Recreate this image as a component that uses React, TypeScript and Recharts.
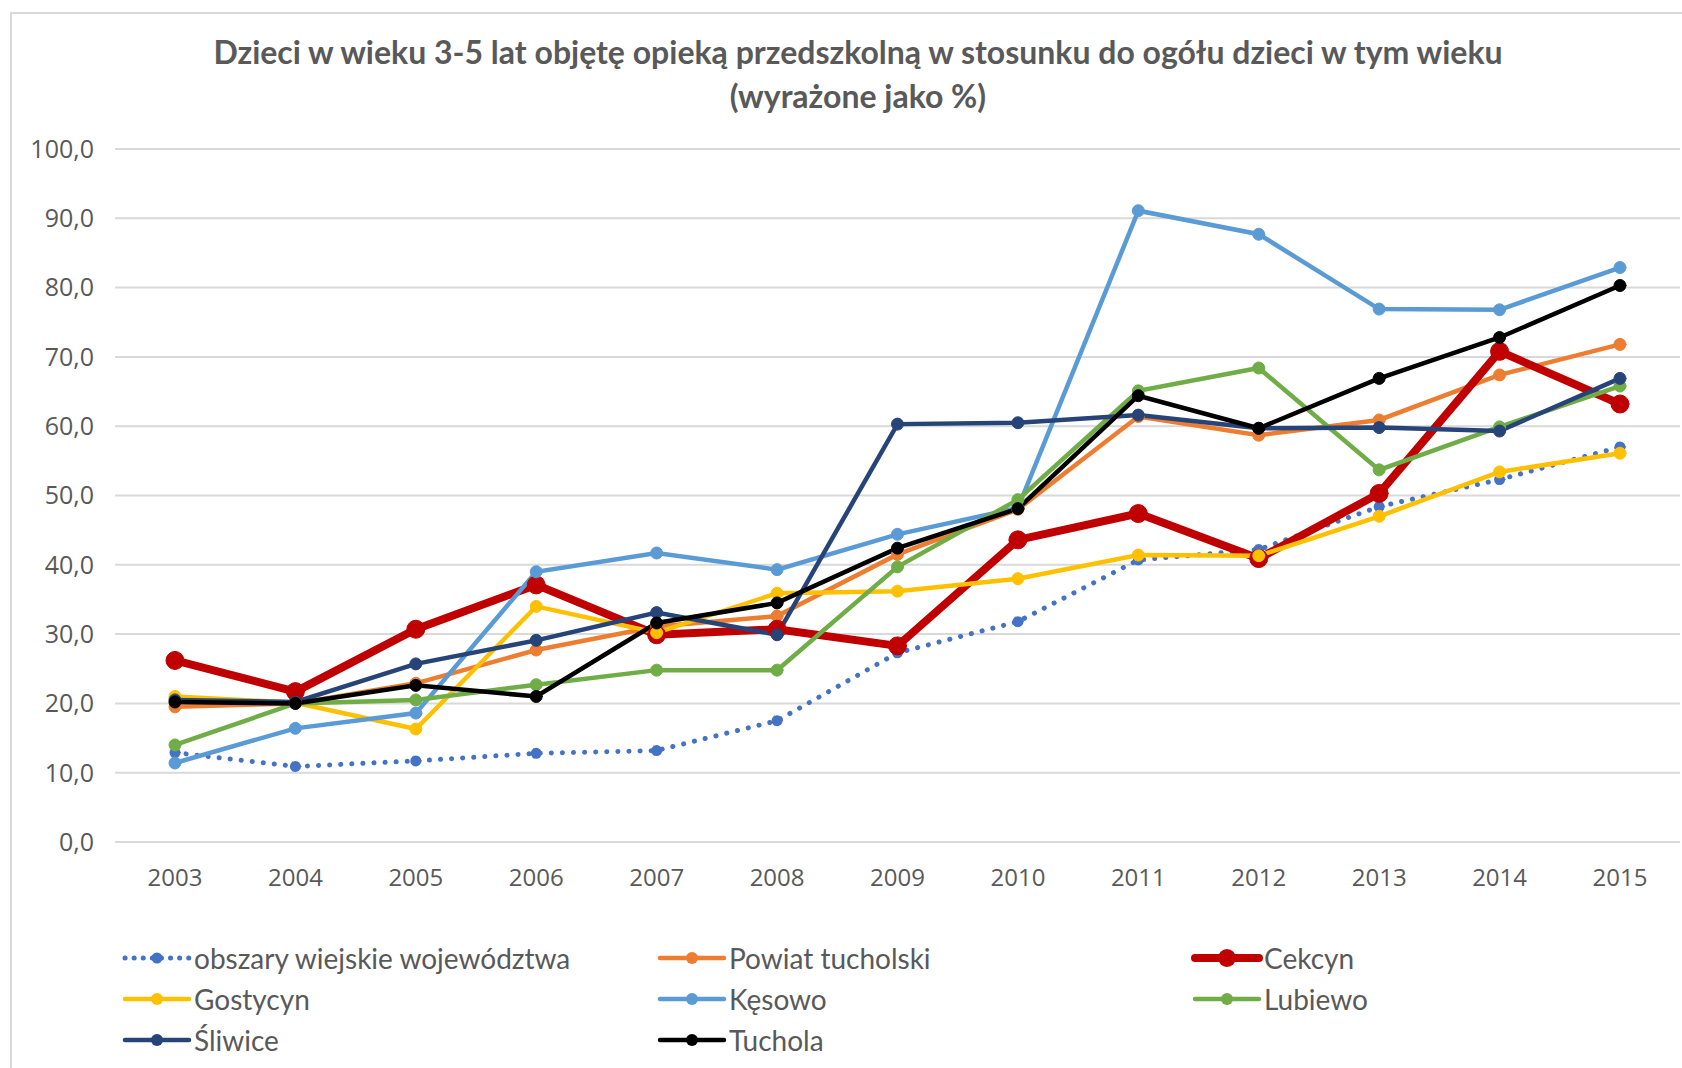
import { LineChart, Line, XAxis, YAxis, CartesianGrid } from 'recharts';

const years = ['2003', '2004', '2005', '2006', '2007', '2008', '2009', '2010', '2011', '2012', '2013', '2014', '2015'];

const obszary = [12.9, 10.9, 11.7, 12.8, 13.2, 17.5, 27.3, 31.8, 40.7, 42.2, 48.4, 52.3, 57.0];
const powiat = [19.5, 20.0, 22.9, 27.7, 31.1, 32.6, 41.5, 48.0, 61.4, 58.7, 60.9, 67.4, 71.8];
const cekcyn = [26.2, 21.7, 30.7, 37.1, 29.9, 30.7, 28.3, 43.6, 47.4, 40.9, 50.3, 70.8, 63.2];
const gostycyn = [21.0, 20.1, 16.3, 34.0, 30.2, 35.9, 36.2, 38.0, 41.4, 41.3, 47.0, 53.4, 56.1];
const kesowo = [11.4, 16.4, 18.6, 39.0, 41.7, 39.3, 44.4, 48.2, 91.1, 87.7, 76.9, 76.8, 82.9];
const lubiewo = [14.0, 20.0, 20.5, 22.7, 24.8, 24.8, 39.7, 49.4, 65.1, 68.4, 53.7, 59.9, 65.8];
const sliwice = [20.5, 20.2, 25.7, 29.1, 33.1, 29.9, 60.3, 60.5, 61.6, 59.7, 59.8, 59.3, 66.9];
const tuchola = [20.2, 20.0, 22.6, 21.0, 31.6, 34.5, 42.4, 48.1, 64.4, 59.7, 66.9, 72.8, 80.3];

const yTicks = [0, 10, 20, 30, 40, 50, 60, 70, 80, 90, 100];

const series = [
  { key: 'obszary', name: 'obszary wiejskie województwa', values: obszary, color: '#4472C4', width: 5, r: 5.5, dotted: true },
  { key: 'powiat', name: 'Powiat tucholski', values: powiat, color: '#ED7D31', width: 4.5, r: 6 },
  { key: 'cekcyn', name: 'Cekcyn', values: cekcyn, color: '#C00000', width: 8, r: 9 },
  { key: 'gostycyn', name: 'Gostycyn', values: gostycyn, color: '#FFC000', width: 4.5, r: 6 },
  { key: 'kesowo', name: 'Kęsowo', values: kesowo, color: '#5B9BD5', width: 4.5, r: 6 },
  { key: 'lubiewo', name: 'Lubiewo', values: lubiewo, color: '#70AD47', width: 4.5, r: 6 },
  { key: 'sliwice', name: 'Śliwice', values: sliwice, color: '#264478', width: 4.5, r: 6 },
  { key: 'tuchola', name: 'Tuchola', values: tuchola, color: '#000000', width: 4.5, r: 6 },
];

const data = years.map((year, i) => {
  const row: Record<string, string | number> = { year };
  series.forEach((s) => {
    row[s.key] = s.values[i];
  });
  return row;
});

const fmt = (v: number) => v.toFixed(1).replace('.', ',');

const legendCols = [121, 656, 1191];
const legendRows = [958, 999, 1040];

export default function App() {
  return (
    <div style={{ position: 'absolute', left: 0, top: 0, width: 1682, height: 1068, background: '#fff', overflow: 'hidden' }}>
      <div style={{ position: 'absolute', left: 10, top: 12, width: 1700, height: 1100, border: '2px solid #D9D9D9' }} />
      <div
        style={{
          position: 'absolute',
          left: 0,
          width: 1716,
          top: 30,
          textAlign: 'center',
          fontFamily: 'Lato, sans-serif',
          fontWeight: 700,
          fontSize: 32,
          lineHeight: '44px',
          color: '#595959',
        }}
      >
        Dzieci w wieku 3-5 lat objętę opieką przedszkolną w stosunku do ogółu dzieci w tym wieku
        <br />
        (wyrażone jako %)
      </div>
      <div style={{ position: 'absolute', left: 0, top: 0 }}>
        <LineChart width={1682} height={1068} data={data} margin={{ top: 149, right: 2, bottom: 166, left: 0 }}>
          <CartesianGrid vertical={false} stroke="#D9D9D9" strokeWidth={2} />
          <XAxis
            dataKey="year"
            stroke="#D9D9D9"
            strokeWidth={2}
            padding={{ left: 60, right: 60 }}
            tickLine={false}
            tickSize={0}
            tickMargin={27}
            height={60}
            tick={{ fill: '#595959', fontSize: 24, fontFamily: 'Open Sans, sans-serif' }}
          />
          <YAxis
            domain={[0, 100]}
            ticks={yTicks}
            interval={0}
            width={115}
            axisLine={false}
            tickLine={false}
            tickSize={0}
            tickMargin={21}
            tickFormatter={fmt}
            tick={{ fill: '#595959', fontSize: 25, fontFamily: 'Open Sans, sans-serif' }}
          />
          {series.map((s) => (
            <Line
              key={s.key}
              type="linear"
              dataKey={s.key}
              name={s.name}
              stroke={s.color}
              strokeWidth={s.width}
              strokeDasharray={s.dotted ? '0.1 11' : undefined}
              strokeLinecap="round"
              dot={{ r: s.r, fill: s.color, stroke: s.color, strokeWidth: 1 }}
              activeDot={false}
              isAnimationActive={false}
            />
          ))}
        </LineChart>
      </div>
      {series.map((s, i) => {
        const x = legendCols[i % 3];
        const y = legendRows[Math.floor(i / 3)];
        return (
          <div key={s.key} style={{ position: 'absolute', left: x, top: y - 20, height: 40, display: 'flex', alignItems: 'center' }}>
            <svg width={72} height={40} style={{ display: 'block' }}>
              <line
                x1={4}
                y1={20}
                x2={68}
                y2={20}
                stroke={s.color}
                strokeWidth={s.width}
                strokeLinecap="round"
                strokeDasharray={s.dotted ? '0.1 9' : undefined}
              />
              <circle cx={36} cy={20} r={s.r} fill={s.color} />
            </svg>
            <span style={{ fontFamily: 'Lato, sans-serif', fontSize: 28, color: '#595959', marginLeft: 1, whiteSpace: 'nowrap' }}>
              {s.name}
            </span>
          </div>
        );
      })}
    </div>
  );
}
